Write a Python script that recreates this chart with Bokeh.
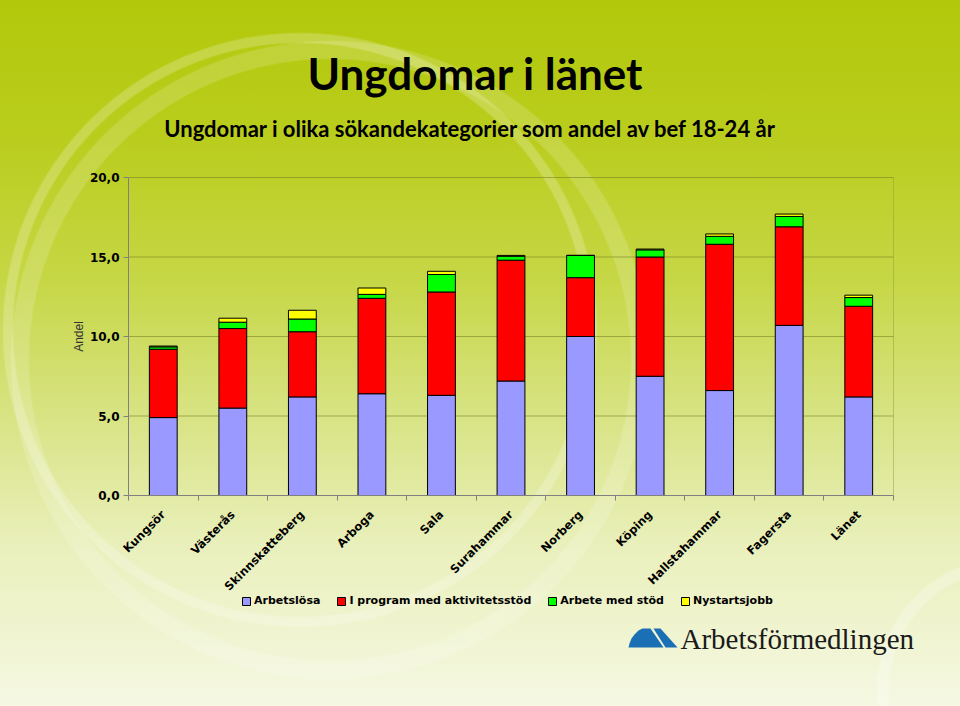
import math
from bokeh.plotting import figure
from bokeh.models import (ColumnDataSource, Range1d, FixedTicker, Legend, LegendItem,
                          Label, PolyAnnotation)
from bokeh.embed import file_html
from bokeh.resources import INLINE

# ---------------- data ----------------
kommuner = ["Kungsör", "Västerås", "Skinnskatteberg", "Arboga", "Sala", "Surahammar",
            "Norberg", "Köping", "Hallstahammar", "Fagersta", "Länet"]
arbetslosa = [4.9, 5.5, 6.2, 6.4, 6.3, 7.2, 10.0, 7.5, 6.6, 10.7, 6.2]
program = [4.3, 5.0, 4.1, 6.0, 6.5, 7.6, 3.7, 7.5, 9.2, 6.2, 5.7]
arbete_stod = [0.15, 0.4, 0.8, 0.25, 1.1, 0.25, 1.4, 0.45, 0.5, 0.65, 0.55]
nystart = [0.05, 0.25, 0.55, 0.4, 0.2, 0.05, 0.0, 0.05, 0.15, 0.15, 0.15]
series_names = ["Arbetslösa", "I program med aktivitetsstöd", "Arbete med stöd", "Nystartsjobb"]
series_colors = ["#9999ff", "#ff0000", "#00ff00", "#ffff00"]
y_ticks = [0, 5, 10, 15, 20]
y_tick_labels = ["0,0", "5,0", "10,0", "15,0", "20,0"]
title_text = "Ungdomar i länet"
subtitle_text = "Ungdomar i olika sökandekategorier som andel av bef 18-24 år"
logo_text = "Arbetsförmedlingen"

# ---------------- layout (pixels) ----------------
W, H = 960, 706
PLOT_L, PLOT_R, PLOT_T, PLOT_B = 128, 893, 177, 495
N = len(kommuner)
Y_MAX = y_ticks[-1]
ux = (PLOT_R - PLOT_L) / N
uy = (PLOT_B - PLOT_T) / Y_MAX

p = figure(width=W, height=H, output_backend="svg", toolbar_location=None,
           x_range=Range1d(-PLOT_L / ux, (W - PLOT_L) / ux),
           y_range=Range1d(-(H - PLOT_B) / uy, Y_MAX + PLOT_T / uy),
           min_border=0)
p.background_fill_color = None
p.border_fill_color = None
p.outline_line_color = None
p.grid.visible = False
p.styles = {"background": (
    "radial-gradient(circle at 300px 330px, transparent 286px, rgba(255,255,255,0.22) 288px, "
    "rgba(255,255,255,0.22) 296px, transparent 298px),"
    "radial-gradient(circle at 330px 360px, transparent 300px, rgba(255,255,255,0.16) 302px, "
    "rgba(255,255,255,0.16) 318px, transparent 320px),"
    "radial-gradient(circle at 1010px 690px, transparent 120px, rgba(255,255,255,0.25) 122px, "
    "rgba(255,255,255,0.25) 132px, transparent 134px),"
    "linear-gradient(180deg, #b2c80a 0%, #bacd1e 20%, #c6d746 40%, #d9e487 60%, #eaf0bd 78%, #f5f8e2 100%)")}

# grid lines and plot-area border
gy = y_ticks[1:]
p.segment(x0=[0] * len(gy), x1=[N] * len(gy), y0=gy, y1=gy,
          line_color="#6f7d20", line_alpha=0.55, line_width=1)
p.segment(x0=[N], x1=[N], y0=[0], y1=[Y_MAX], line_color="#8c9a3a", line_alpha=0.45, line_width=1)

# bars
centers = [i + 0.5 for i in range(N)]
bounds = [float(i) for i in range(N + 1)]
src = ColumnDataSource(dict(x=centers, s0=arbetslosa, s1=program, s2=arbete_stod, s3=nystart))
renderers = p.vbar_stack(["s0", "s1", "s2", "s3"], x="x", width=0.4, source=src,
                         fill_color=series_colors, line_color="black", line_width=1)

# y axis
ya = p.yaxis[0]
ya.fixed_location = 0
ya.bounds = (0, Y_MAX)
ya.ticker = FixedTicker(ticks=y_ticks)
ya.major_label_overrides = {t: l for t, l in zip(y_ticks, y_tick_labels)}
ya.minor_tick_line_color = None
ya.major_tick_in = 0
ya.major_tick_out = 5
ya.axis_line_color = "#808080"
ya.major_tick_line_color = "#808080"
ya.major_label_text_font = "DejaVu Sans"
ya.major_label_text_font_style = "bold"
ya.major_label_text_font_size = "12px"
ya.major_label_text_color = "black"
ya.major_label_standoff = 4
ya.axis_label = "Andel"
ya.axis_label_text_font = "Liberation Sans"
ya.axis_label_text_font_style = "normal"
ya.axis_label_text_font_size = "12px"
ya.axis_label_text_color = "#333333"
ya.axis_label_standoff = 1

# x axis
xa = p.xaxis[0]
xa.fixed_location = 0
xa.bounds = (0, N)
xa.ticker = FixedTicker(ticks=centers, minor_ticks=bounds)
xa.major_label_overrides = {c: k for c, k in zip(centers, kommuner)}
xa.major_tick_in = 0
xa.major_tick_out = 0
xa.minor_tick_in = 0
xa.minor_tick_out = 5
xa.minor_tick_line_color = "#808080"
xa.axis_line_color = "#808080"
xa.major_label_orientation = math.pi / 4
xa.major_label_text_font = "DejaVu Sans"
xa.major_label_text_font_style = "bold"
xa.major_label_text_font_size = "11.5px"
xa.major_label_text_color = "black"
xa.major_label_standoff = 12

# titles
p.add_layout(Label(x=475, y=H - 72, x_units="screen", y_units="screen", text=title_text,
                   text_align="center", text_baseline="alphabetic", text_font="Lato",
                   text_font_style="bold", text_font_size="44px", text_color="black"))
p.add_layout(Label(x=470, y=H - 128, x_units="screen", y_units="screen", text=subtitle_text,
                   text_align="center", text_baseline="alphabetic", text_font="Lato",
                   text_font_style="bold", text_font_size="22px", text_color="black"))

# legend
items = [LegendItem(label=n, renderers=[r]) for n, r in zip(series_names, renderers)]
legend = Legend(items=items, orientation="horizontal", location=(241, H - 607),
                background_fill_alpha=0, border_line_color=None,
                label_text_font="DejaVu Sans", label_text_font_style="bold",
                label_text_font_size="11px", label_text_color="black",
                glyph_width=10, glyph_height=10, label_standoff=3, spacing=16,
                padding=0, margin=0, label_height=12)
p.add_layout(legend)

# logo
p.add_layout(PolyAnnotation(xs=[628, 629, 631, 634, 638, 642, 650, 663],
                            ys=[H - v for v in [647, 643, 638, 634, 630, 628, 628, 647]],
                            xs_units="screen", ys_units="screen",
                            fill_color="#1b6fb5", fill_alpha=1, line_color=None))
p.add_layout(PolyAnnotation(xs=[653, 660, 677, 665], ys=[H - v for v in [628, 628, 647, 647]],
                            xs_units="screen", ys_units="screen",
                            fill_color="#1b6fb5", fill_alpha=1, line_color=None))
p.add_layout(Label(x=680, y=H - 638, x_units="screen", y_units="screen", text=logo_text,
                   text_align="left", text_baseline="alphabetic", text_font="Liberation Serif",
                   text_font_size="29px", text_color="#1a1a1a"))

open("out.html", "w").write(file_html(p, INLINE))
